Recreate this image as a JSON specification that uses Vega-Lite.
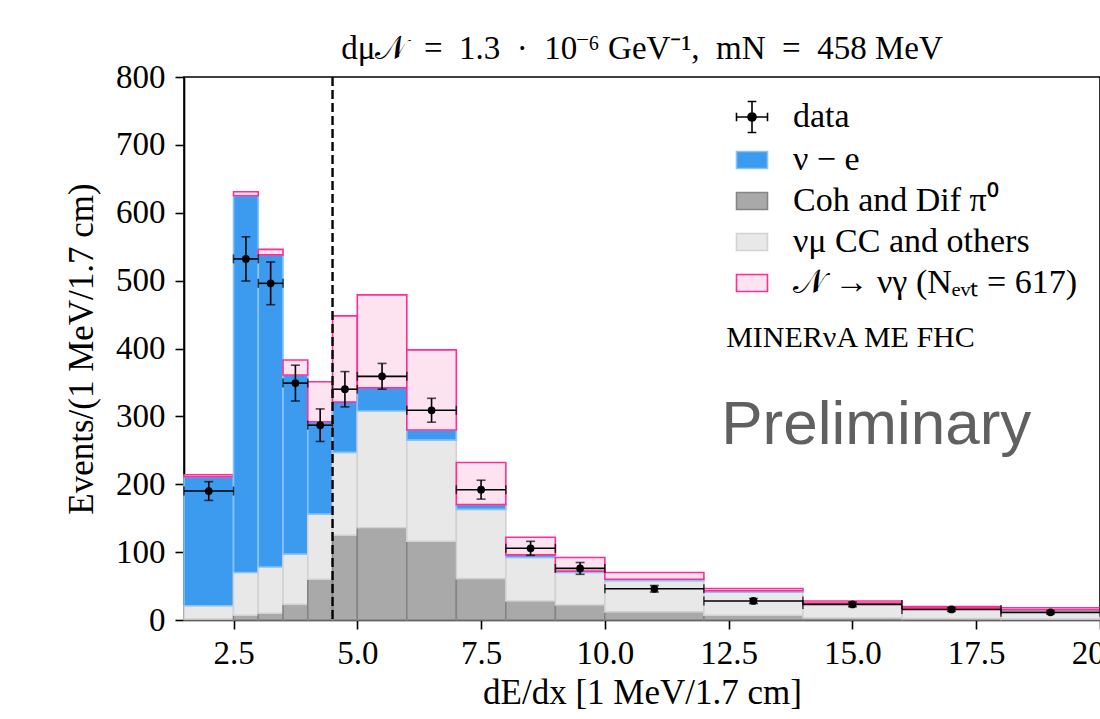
{
  "$schema": "https://vega.github.io/schema/vega-lite/v6.json",
  "autosize": {"type": "none"},
  "width": 916,
  "height": 543,
  "padding": {"left": 184, "top": 77, "right": 0, "bottom": 99},
  "background": "white",
  "title": {
    "text": "dμ𝒩 \u2005=\u2005 1.3 \u2005·\u2005 10⁻⁶ GeV⁻¹, \u2005mN \u2005=\u2005 458 MeV",
    "font": "Liberation Serif",
    "fontSize": 33,
    "fontWeight": "normal",
    "color": "black",
    "offset": -5,
    "anchor": "middle"
  },
  "config": {
    "view": {"stroke": "black", "strokeWidth": 1.6},
    "axis": {
      "domainColor": "black",
      "domainWidth": 1.6,
      "tickColor": "black",
      "tickWidth": 1.6,
      "tickSize": 9,
      "grid": false,
      "labelFont": "Liberation Serif",
      "labelFontSize": 33,
      "labelColor": "black",
      "labelFlush": false,
      "labelOverlap": false,
      "titleFont": "Liberation Serif",
      "titleFontSize": 35,
      "titleFontWeight": "normal",
      "titleColor": "black"
    },
    "legend": {
      "labelFont": "Liberation Serif",
      "labelFontSize": 34,
      "labelColor": "black",
      "labelLimit": 500
    }
  },
  "datasets": {
    "bars": [
      {"comp": "coh", "x0": 1.5, "x1": 2.5, "lo": 0, "hi": 1.5},
      {"comp": "numu", "x0": 1.5, "x1": 2.5, "lo": 1.5, "hi": 21},
      {"comp": "nue", "x0": 1.5, "x1": 2.5, "lo": 21, "hi": 211},
      {"comp": "sig", "x0": 1.5, "x1": 2.5, "lo": 211, "hi": 214},
      {"comp": "coh", "x0": 2.5, "x1": 3.0, "lo": 0, "hi": 7},
      {"comp": "numu", "x0": 2.5, "x1": 3.0, "lo": 7, "hi": 70},
      {"comp": "nue", "x0": 2.5, "x1": 3.0, "lo": 70, "hi": 625},
      {"comp": "sig", "x0": 2.5, "x1": 3.0, "lo": 625, "hi": 631},
      {"comp": "coh", "x0": 3.0, "x1": 3.5, "lo": 0, "hi": 10},
      {"comp": "numu", "x0": 3.0, "x1": 3.5, "lo": 10, "hi": 78},
      {"comp": "nue", "x0": 3.0, "x1": 3.5, "lo": 78, "hi": 538},
      {"comp": "sig", "x0": 3.0, "x1": 3.5, "lo": 538, "hi": 546},
      {"comp": "coh", "x0": 3.5, "x1": 4.0, "lo": 0, "hi": 23},
      {"comp": "numu", "x0": 3.5, "x1": 4.0, "lo": 23, "hi": 97},
      {"comp": "nue", "x0": 3.5, "x1": 4.0, "lo": 97, "hi": 361},
      {"comp": "sig", "x0": 3.5, "x1": 4.0, "lo": 361, "hi": 383},
      {"comp": "coh", "x0": 4.0, "x1": 4.5, "lo": 0, "hi": 60},
      {"comp": "numu", "x0": 4.0, "x1": 4.5, "lo": 60, "hi": 156},
      {"comp": "nue", "x0": 4.0, "x1": 4.5, "lo": 156, "hi": 292},
      {"comp": "sig", "x0": 4.0, "x1": 4.5, "lo": 292, "hi": 351},
      {"comp": "coh", "x0": 4.5, "x1": 5.0, "lo": 0, "hi": 125},
      {"comp": "numu", "x0": 4.5, "x1": 5.0, "lo": 125, "hi": 247},
      {"comp": "nue", "x0": 4.5, "x1": 5.0, "lo": 247, "hi": 321},
      {"comp": "sig", "x0": 4.5, "x1": 5.0, "lo": 321, "hi": 448},
      {"comp": "coh", "x0": 5.0, "x1": 6.0, "lo": 0, "hi": 136},
      {"comp": "numu", "x0": 5.0, "x1": 6.0, "lo": 136, "hi": 308},
      {"comp": "nue", "x0": 5.0, "x1": 6.0, "lo": 308, "hi": 342},
      {"comp": "sig", "x0": 5.0, "x1": 6.0, "lo": 342, "hi": 479},
      {"comp": "coh", "x0": 6.0, "x1": 7.0, "lo": 0, "hi": 116},
      {"comp": "numu", "x0": 6.0, "x1": 7.0, "lo": 116, "hi": 265},
      {"comp": "nue", "x0": 6.0, "x1": 7.0, "lo": 265, "hi": 280},
      {"comp": "sig", "x0": 6.0, "x1": 7.0, "lo": 280, "hi": 398},
      {"comp": "coh", "x0": 7.0, "x1": 8.0, "lo": 0, "hi": 61},
      {"comp": "numu", "x0": 7.0, "x1": 8.0, "lo": 61, "hi": 163},
      {"comp": "nue", "x0": 7.0, "x1": 8.0, "lo": 163, "hi": 170},
      {"comp": "sig", "x0": 7.0, "x1": 8.0, "lo": 170, "hi": 232},
      {"comp": "coh", "x0": 8.0, "x1": 9.0, "lo": 0, "hi": 28},
      {"comp": "numu", "x0": 8.0, "x1": 9.0, "lo": 28, "hi": 92},
      {"comp": "nue", "x0": 8.0, "x1": 9.0, "lo": 92, "hi": 96},
      {"comp": "sig", "x0": 8.0, "x1": 9.0, "lo": 96, "hi": 122},
      {"comp": "coh", "x0": 9.0, "x1": 10.0, "lo": 0, "hi": 22},
      {"comp": "numu", "x0": 9.0, "x1": 10.0, "lo": 22, "hi": 70},
      {"comp": "nue", "x0": 9.0, "x1": 10.0, "lo": 70, "hi": 72},
      {"comp": "sig", "x0": 9.0, "x1": 10.0, "lo": 72, "hi": 92},
      {"comp": "coh", "x0": 10.0, "x1": 12.0, "lo": 0, "hi": 12},
      {"comp": "numu", "x0": 10.0, "x1": 12.0, "lo": 12, "hi": 58},
      {"comp": "nue", "x0": 10.0, "x1": 12.0, "lo": 58, "hi": 60},
      {"comp": "sig", "x0": 10.0, "x1": 12.0, "lo": 60, "hi": 70},
      {"comp": "coh", "x0": 12.0, "x1": 14.0, "lo": 0, "hi": 7},
      {"comp": "numu", "x0": 12.0, "x1": 14.0, "lo": 7, "hi": 41},
      {"comp": "nue", "x0": 12.0, "x1": 14.0, "lo": 41, "hi": 43},
      {"comp": "sig", "x0": 12.0, "x1": 14.0, "lo": 43, "hi": 46.5},
      {"comp": "coh", "x0": 14.0, "x1": 16.0, "lo": 0, "hi": 3},
      {"comp": "numu", "x0": 14.0, "x1": 16.0, "lo": 3, "hi": 24},
      {"comp": "nue", "x0": 14.0, "x1": 16.0, "lo": 24, "hi": 25},
      {"comp": "sig", "x0": 14.0, "x1": 16.0, "lo": 25, "hi": 28},
      {"comp": "coh", "x0": 16.0, "x1": 18.0, "lo": 0, "hi": 2},
      {"comp": "numu", "x0": 16.0, "x1": 18.0, "lo": 2, "hi": 17},
      {"comp": "nue", "x0": 16.0, "x1": 18.0, "lo": 17, "hi": 17.5},
      {"comp": "sig", "x0": 16.0, "x1": 18.0, "lo": 17.5, "hi": 20},
      {"comp": "coh", "x0": 18.0, "x1": 20.0, "lo": 0, "hi": 1.5},
      {"comp": "numu", "x0": 18.0, "x1": 20.0, "lo": 1.5, "hi": 14.5},
      {"comp": "nue", "x0": 18.0, "x1": 20.0, "lo": 14.5, "hi": 15},
      {"comp": "sig", "x0": 18.0, "x1": 20.0, "lo": 15, "hi": 18}
    ],
    "points": [
      {"x": 2.0, "x0": 1.5, "x1": 2.5, "y": 190, "ylo": 176.2, "yhi": 203.8},
      {"x": 2.75, "x0": 2.5, "x1": 3.0, "y": 532, "ylo": 499.4, "yhi": 564.6},
      {"x": 3.25, "x0": 3.0, "x1": 3.5, "y": 496, "ylo": 464.5, "yhi": 527.5},
      {"x": 3.75, "x0": 3.5, "x1": 4.0, "y": 349, "ylo": 322.6, "yhi": 375.4},
      {"x": 4.25, "x0": 4.0, "x1": 4.5, "y": 287, "ylo": 263, "yhi": 311},
      {"x": 4.75, "x0": 4.5, "x1": 5.0, "y": 340, "ylo": 314, "yhi": 366},
      {"x": 5.5, "x0": 5.0, "x1": 6.0, "y": 359, "ylo": 340, "yhi": 378},
      {"x": 6.5, "x0": 6.0, "x1": 7.0, "y": 309, "ylo": 291.4, "yhi": 326.6},
      {"x": 7.5, "x0": 7.0, "x1": 8.0, "y": 192, "ylo": 178.1, "yhi": 205.9},
      {"x": 8.5, "x0": 8.0, "x1": 9.0, "y": 105.6, "ylo": 95.3, "yhi": 115.9},
      {"x": 9.5, "x0": 9.0, "x1": 10.0, "y": 76, "ylo": 67.3, "yhi": 84.7},
      {"x": 11.0, "x0": 10.0, "x1": 12.0, "y": 46, "ylo": 41.2, "yhi": 50.8},
      {"x": 13.0, "x0": 12.0, "x1": 14.0, "y": 28, "ylo": 24.3, "yhi": 31.7},
      {"x": 15.0, "x0": 14.0, "x1": 16.0, "y": 23, "ylo": 19.6, "yhi": 26.4},
      {"x": 17.0, "x0": 16.0, "x1": 18.0, "y": 15.5, "ylo": 12.7, "yhi": 18.3},
      {"x": 19.0, "x0": 18.0, "x1": 20.0, "y": 11.3, "ylo": 8.9, "yhi": 13.7}
    ],
    "notes": [
      {"label": "MINERνA ME FHC"}
    ]
  },
  "layer": [
    {
      "data": {"name": "bars"},
      "mark": {"type": "rect", "strokeWidth": 1.6, "fillOpacity": 1},
      "encoding": {
        "x": {
          "field": "x0", "type": "quantitative",
          "scale": {"domain": [1.5, 20], "nice": false, "zero": false},
          "axis": {
            "values": [2.5, 5, 7.5, 10, 12.5, 15, 17.5, 20],
            "format": ".1f",
            "labelPadding": 8,
            "title": "dE/dx [1 MeV/1.7 cm]",
            "titlePadding": 5
          }
        },
        "x2": {"field": "x1"},
        "y": {
          "field": "lo", "type": "quantitative",
          "scale": {"domain": [0, 800], "nice": false},
          "axis": {
            "values": [0, 100, 200, 300, 400, 500, 600, 700, 800],
            "labelPadding": 10,
            "title": "Events/(1 MeV/1.7 cm)",
            "titlePadding": 16
          }
        },
        "y2": {"field": "hi"},
        "color": {
          "field": "comp", "type": "nominal",
          "scale": {
            "domain": ["data", "nue", "coh", "numu", "sig"],
            "range": ["#000000", "#3d9bef", "#a9a9a9", "#e8e8e8", "#fde3f0"]
          },
          "legend": {
            "title": null,
            "orient": "top-right",
            "offset": 23,
            "padding": 0,
            "rowPadding": 7,
            "labelOffset": 24,
            "symbolSize": 961,
            "labelExpr": "datum.value === 'data' ? 'data' : datum.value === 'nue' ? 'ν − e' : datum.value === 'coh' ? 'Coh and Dif π⁰' : datum.value === 'numu' ? 'νμ CC and others' : '𝒩 → νγ (Nₑᵥₜ = 617)'",
            "encode": {
              "symbols": {
                "update": {
                  "shape": {"signal": "datum.value === 'data' ? 'M-1,0H1M-1,-0.28V0.28M1,-0.28V0.28M0,-1V1M-0.28,-1H0.28M-0.28,1H0.28M0.26,0A0.26,0.26,0,1,1,-0.26,0A0.26,0.26,0,1,1,0.26,0Z' : 'M-1,-0.55H1V0.55H-1Z'"},
                  "fill": {"signal": "datum.value === 'data' ? '#000000' : datum.value === 'sig' ? '#ffffff' : datum.value === 'nue' ? '#3d9bef' : datum.value === 'coh' ? '#a9a9a9' : '#e8e8e8'"},
                  "stroke": {"signal": "datum.value === 'data' ? '#000000' : datum.value === 'sig' ? '#ff2d95' : datum.value === 'nue' ? '#86c4f8' : datum.value === 'coh' ? '#858585' : '#d2d2d2'"},
                  "strokeWidth": {"value": 1.6},
                  "opacity": {"value": 1},
                  "fillOpacity": {"value": 1}
                }
              }
            }
          }
        },
        "stroke": {
          "field": "comp", "type": "nominal",
          "scale": {
            "domain": ["data", "nue", "coh", "numu", "sig"],
            "range": ["#000000", "#86c4f8", "#858585", "#d2d2d2", "#ff2d95"]
          },
          "legend": null
        }
      }
    },
    {
      "data": {"name": "notes"},
      "mark": {"type": "rule", "color": "black", "strokeWidth": 2.4, "strokeDash": [9, 4]},
      "encoding": {"x": {"datum": 4.5}}
    },
    {
      "data": {"name": "points"},
      "mark": {"type": "rule", "color": "black", "strokeWidth": 1.6},
      "encoding": {
        "x": {"field": "x0", "type": "quantitative"},
        "x2": {"field": "x1"},
        "y": {"field": "y", "type": "quantitative"}
      }
    },
    {
      "data": {"name": "points"},
      "mark": {"type": "rule", "color": "black", "strokeWidth": 1.6},
      "encoding": {
        "x": {"field": "x", "type": "quantitative"},
        "y": {"field": "ylo", "type": "quantitative"},
        "y2": {"field": "yhi"}
      }
    },
    {
      "data": {"name": "points"},
      "mark": {"type": "tick", "color": "black", "orient": "horizontal", "size": 9, "thickness": 1.6},
      "encoding": {
        "x": {"field": "x", "type": "quantitative"},
        "y": {"field": "ylo", "type": "quantitative"}
      }
    },
    {
      "data": {"name": "points"},
      "mark": {"type": "tick", "color": "black", "orient": "horizontal", "size": 9, "thickness": 1.6},
      "encoding": {
        "x": {"field": "x", "type": "quantitative"},
        "y": {"field": "yhi", "type": "quantitative"}
      }
    },
    {
      "data": {"name": "points"},
      "mark": {"type": "tick", "color": "black", "orient": "vertical", "size": 9, "thickness": 1.6},
      "encoding": {
        "x": {"field": "x0", "type": "quantitative"},
        "y": {"field": "y", "type": "quantitative"}
      }
    },
    {
      "data": {"name": "points"},
      "mark": {"type": "tick", "color": "black", "orient": "vertical", "size": 9, "thickness": 1.6},
      "encoding": {
        "x": {"field": "x1", "type": "quantitative"},
        "y": {"field": "y", "type": "quantitative"}
      }
    },
    {
      "data": {"name": "points"},
      "mark": {"type": "circle", "color": "black", "size": 60, "opacity": 1},
      "encoding": {
        "x": {"field": "x", "type": "quantitative"},
        "y": {"field": "y", "type": "quantitative"}
      }
    },
    {
      "data": {"name": "notes"},
      "mark": {"type": "text", "font": "Liberation Serif", "fontSize": 30, "align": "left", "baseline": "middle", "color": "black"},
      "encoding": {"x": {"datum": 12.45}, "y": {"datum": 415}, "text": {"field": "label"}}
    },
    {
      "data": {"name": "notes"},
      "mark": {"type": "text", "text": "Preliminary", "font": "Liberation Sans", "fontSize": 62, "align": "left", "baseline": "middle", "color": "#606060"},
      "encoding": {"x": {"datum": 12.35}, "y": {"datum": 288}}
    }
  ]
}
